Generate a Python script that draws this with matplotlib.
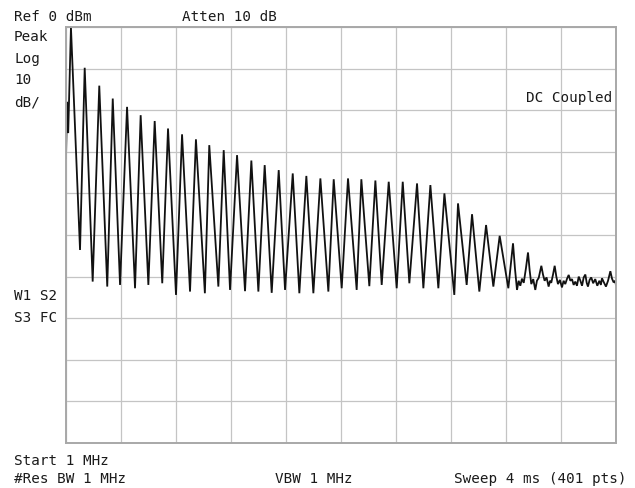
import matplotlib
matplotlib.use("Agg")
import matplotlib.pyplot as plt
import numpy as np

# ---- instrument settings (from annotations) ----
ref_level_dbm = 0
db_per_div = 10
n_divs = 10
n_points = 401

# ---- trace data (sweep point index, amplitude in dBm) ----
start_pt = [0.0, 0.8, 1.6]
start_dbm = [-31.5, -18.0, -25.5]

peak_pt = [3.6, 13.6, 24.2, 34.0, 44.4, 54.3, 64.5, 74.2, 84.4, 94.5,
           104.2, 114.7, 124.4, 134.8, 144.5, 154.7, 164.9, 174.8, 185.0, 194.7,
           205.1, 214.8, 225.0, 234.7, 244.9, 255.3, 265.0, 275.2, 285.1, 295.3,
           305.5, 315.4, 325.1]
peak_dbm = [-0.1, -9.8, -14.1, -17.2, -19.2, -21.2, -22.6, -24.4, -25.8, -27.0,
            -28.4, -29.6, -30.8, -32.1, -33.2, -34.4, -35.2, -35.8, -36.4, -36.6,
            -36.4, -36.6, -36.9, -37.2, -37.2, -37.6, -38.0, -40.0, -42.4, -45.0,
            -47.6, -50.2, -52.0]

valley_pt = [10.2, 19.4, 30.0, 39.3, 50.2, 59.9, 70.0, 80.0, 90.2, 101.0,
             110.8, 119.3, 130.2, 139.9, 149.6, 159.3, 169.7, 179.9, 190.8, 200.5,
             211.4, 220.6, 229.6, 240.5, 249.7, 259.9, 270.8, 282.4, 291.4, 300.6,
             310.8, 321.7]
valley_dbm = [-53.6, -61.2, -62.4, -62.0, -62.8, -62.0, -61.6, -64.4, -63.6, -64.0,
              -62.4, -63.2, -63.5, -63.6, -63.9, -63.2, -64.0, -64.0, -63.6, -62.8,
              -63.2, -62.3, -62.0, -62.8, -61.6, -62.8, -62.8, -64.4, -62.0, -63.6,
              -62.4, -62.8]

tail_pt = [326.5, 328.0, 329.2, 330.4, 331.6, 332.9, 334.5, 336.0, 337.2, 338.4,
           339.8, 341.3, 342.5, 343.8, 345.7, 346.9, 348.1, 349.5, 351.0, 352.0,
           352.9, 354.2, 355.4, 356.6, 357.8, 359.2, 360.7, 361.9, 363.1, 364.4,
           365.6, 366.8, 368.0, 369.2, 370.4, 371.6, 372.9, 374.1, 375.3, 376.5,
           377.7, 378.7, 379.6, 380.8, 382.0, 383.4, 384.9, 386.4, 387.9, 389.0,
           389.8, 391.2, 392.7, 394.2, 395.9, 397.1, 398.3, 399.2, 400.0]
tail_dbm = [-58.0, -63.2, -61.0, -62.2, -60.5, -61.5, -58.0, -54.2, -58.5, -61.8,
            -60.6, -63.2, -61.0, -60.3, -57.4, -59.5, -61.0, -60.2, -62.4, -61.0,
            -61.5, -59.5, -57.4, -60.0, -61.8, -60.8, -62.6, -61.0, -61.8, -60.5,
            -59.6, -61.0, -60.6, -62.0, -61.2, -62.2, -60.0, -61.0, -62.2, -60.2,
            -59.5, -61.5, -62.4, -60.8, -60.2, -61.6, -60.6, -62.2, -61.0, -62.0,
            -60.4, -61.4, -62.4, -61.0, -58.7, -60.5, -61.4, -61.0, -62.0]

# ---- annotation texts ----
top_left_labels = ["Peak", "Log", "10", "dB/"]
header_ref = "Ref 0 dBm"
header_atten = "Atten 10 dB"
coupling_label = "DC Coupled"
status_labels = ["W1 S2", "S3 FC"]
footer_start = "Start 1 MHz"
footer_rbw = "#Res BW 1 MHz"
footer_vbw = "VBW 1 MHz"
footer_sweep = "Sweep 4 ms (401 pts)"

# ---- assemble trace: start, peak/valley alternating, noisy tail ----
trace_x = list(start_pt)
trace_y = list(start_dbm)
for i, (px, py) in enumerate(zip(peak_pt, peak_dbm)):
    trace_x.append(px)
    trace_y.append(py)
    if i < len(valley_pt):
        trace_x.append(valley_pt[i])
        trace_y.append(valley_dbm[i])
trace_x += tail_pt
trace_y += tail_dbm

W, H = 635, 488
fig = plt.figure(figsize=(W / 100, H / 100), dpi=100)
fig.patch.set_facecolor("white")

left, right, top, bottom = 66, 616, 27, 443
ax = fig.add_axes([left / W, 1 - bottom / H, (right - left) / W, (bottom - top) / H])
ax.set_xlim(0, n_points - 1)
ax.set_ylim(ref_level_dbm - db_per_div * n_divs, ref_level_dbm)
ax.set_xticks(np.linspace(0, n_points - 1, n_divs + 1))
ax.set_yticks(np.linspace(ref_level_dbm - db_per_div * n_divs, ref_level_dbm, n_divs + 1))
ax.tick_params(length=0, labelbottom=False, labelleft=False)
ax.grid(True, color="#c4c4c4", linewidth=0.9)
ax.set_axisbelow(True)
for s in ax.spines.values():
    s.set_color("#a8a8a8")
    s.set_linewidth(1.4)

ax.plot(trace_x, trace_y, color="#111111", linewidth=1.3, solid_joinstyle="miter")

font = dict(family="DejaVu Sans Mono", fontsize=10.3, color="#1a1a1a")


def put(txt, x, y, ha="left"):
    fig.text(x / W, 1 - y / H, txt, ha=ha, va="baseline", **font)


put(header_ref, 14, 21)
put(header_atten, 182, 21)
for i, t in enumerate(top_left_labels):
    put(t, 14, 41 + i * 21.7)
put(coupling_label, 612, 102, ha="right")
put(status_labels[0], 14, 300)
put(status_labels[1], 14, 322)
put(footer_start, 14, 465)
put(footer_rbw, 14, 483)
put(footer_vbw, 275, 483)
put(footer_sweep, 626, 483, ha="right")

fig.savefig("out.png", dpi=100, facecolor="white")
